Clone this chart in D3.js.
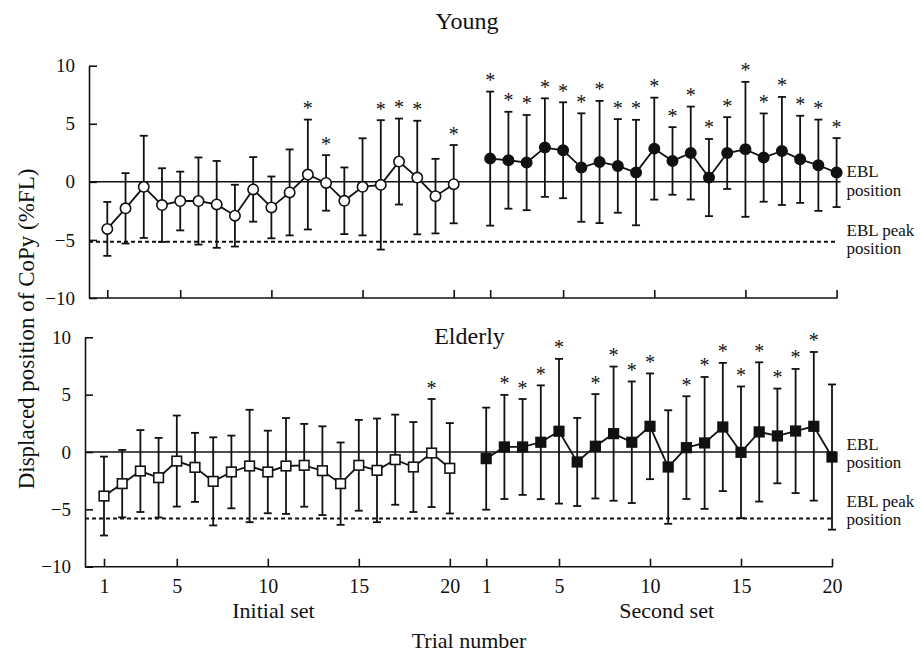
<!DOCTYPE html>
<html><head><meta charset="utf-8">
<script src="https://cdn.jsdelivr.net/npm/d3@7"></script>
<style>body{margin:0;background:#fff}svg{display:block}text{font-family:"Liberation Serif","Times New Roman",serif;fill:#111}</style>
</head><body><svg id="c" width="922" height="652"></svg>
<script>
// ---- data ----
const trials = [1,2,3,4,5,6,7,8,9,10,11,12,13,14,15,16,17,18,19,20];
const xTickLabels = [1,5,10,15,20];
const yTickValues = [-10,-5,0,5,10];

const youngInitialMean = [-4.05,-2.28,-0.43,-2.0,-1.65,-1.65,-1.94,-2.91,-0.65,-2.2,-0.91,0.63,-0.09,-1.63,-0.43,-0.26,1.75,0.37,-1.23,-0.2];
const youngInitialSD   = [2.32,3.03,4.4,3.17,2.53,3.75,3.74,2.66,2.78,2.66,3.7,4.73,2.39,2.87,4.18,5.57,3.7,4.89,3.21,3.37];
const youngInitialSig  = [0,0,0,0,0,0,0,0,0,0,0,1,1,0,0,1,1,1,0,1];
const youngSecondMean  = [2.0,1.86,1.66,2.95,2.72,1.23,1.71,1.37,0.8,2.86,1.8,2.48,0.37,2.48,2.8,2.09,2.66,1.94,1.43,0.8];
const youngSecondSD    = [5.77,4.17,4.1,4.24,4.13,4.67,5.26,4.03,4.54,4.39,2.91,4.0,3.32,3.09,5.81,3.8,4.65,3.75,3.93,2.97];
const youngSecondSig   = [1,1,1,1,1,1,1,1,1,1,1,1,1,1,1,1,1,1,1,1];
const youngPeak = -5.15;

const elderlyInitialMean = [-3.84,-2.76,-1.66,-2.24,-0.79,-1.34,-2.56,-1.74,-1.22,-1.74,-1.22,-1.16,-1.63,-2.76,-1.16,-1.6,-0.67,-1.31,-0.09,-1.42];
const elderlyInitialSD   = [3.44,2.94,3.57,3.47,3.97,3.01,3.84,3.17,4.9,3.6,4.18,3.61,3.87,3.59,3.96,4.52,3.93,3.92,4.71,3.94];
const elderlyInitialSig  = [0,0,0,0,0,0,0,0,0,0,0,0,0,0,0,0,0,0,1,0];
const elderlySecondMean  = [-0.58,0.44,0.44,0.85,1.81,-0.87,0.5,1.6,0.85,2.24,-1.31,0.38,0.79,2.18,-0.03,1.75,1.4,1.83,2.24,-0.44];
const elderlySecondSD    = [4.45,4.54,4.18,4.96,6.31,3.84,4.55,5.85,5.3,4.61,4.95,4.48,5.75,5.59,5.74,6.07,4.13,5.41,6.48,6.33];
const elderlySecondSig   = [0,1,1,1,1,0,1,1,1,1,0,1,1,1,1,1,1,1,1,0];
const elderlyPeak = -5.8;

// ---- drawing ----
const svg = d3.select("#c");
const ink = "#111";

function panel(cfg){
  const g = svg.append("g");
  const x = d3.scaleLinear().domain([0,40]).range(cfg.xr);
  const y = d3.scaleLinear().domain([-10,10]).range(cfg.yr);
  const pos = (set,t) => x(set===0 ? t-1 : t+20);
  const xEnd = x(40);

  // reference lines
  g.append("line").attr("x1",cfg.ax).attr("x2",xEnd+4).attr("y1",y(0)).attr("y2",y(0))
    .attr("stroke",ink).attr("stroke-width",1.5);
  g.append("line").attr("x1",cfg.ax).attr("x2",xEnd).attr("y1",y(cfg.peak)).attr("y2",y(cfg.peak))
    .attr("stroke",ink).attr("stroke-width",2).attr("stroke-dasharray","4,3");

  // y axis
  const ya = g.append("g").attr("transform",`translate(${cfg.ax},0)`)
    .call(d3.axisLeft(y).tickValues(yTickValues).tickSizeInner(-8).tickSizeOuter(0).tickPadding(14));
  ya.attr("font-family",null);
  ya.selectAll("path,line").attr("stroke",ink).attr("stroke-width",1.6);
  ya.selectAll("text").attr("font-size",19).attr("fill",ink);

  // x axis
  const tv = xTickLabels.map(d=>d-1).concat(xTickLabels.map(d=>d+20));
  const xa = g.append("g").attr("transform",`translate(0,${y(-10)})`)
    .call(d3.axisBottom(x).tickValues(tv).tickSizeInner(-8).tickSizeOuter(0).tickPadding(12)
      .tickFormat(cfg.labels ? (d => d<20 ? d+1 : d-20) : ""));
  xa.attr("font-family",null);
  xa.select(".domain").remove();
  xa.selectAll("line").attr("stroke",ink).attr("stroke-width",1.6);
  xa.selectAll("text").attr("font-size",20).attr("fill",ink);
  g.append("line").attr("x1",cfg.ax).attr("x2",xEnd+0.8).attr("y1",y(-10)).attr("y2",y(-10))
    .attr("stroke",ink).attr("stroke-width",1.6);

  cfg.sets.forEach((s,si)=>{
    const pts = trials.map((t,i)=>({t, m:s.mean[i], sd:s.sd[i], sig:s.sig[i]}));
    // error bars
    const eb = g.append("g").attr("stroke",ink).attr("stroke-width",1.8);
    pts.forEach(p=>{
      const cx = pos(si,p.t), y1 = y(p.m+p.sd), y2 = y(p.m-p.sd);
      eb.append("line").attr("x1",cx).attr("x2",cx).attr("y1",y1).attr("y2",y2);
      eb.append("line").attr("x1",cx-4).attr("x2",cx+4).attr("y1",y1).attr("y2",y1);
      eb.append("line").attr("x1",cx-4).attr("x2",cx+4).attr("y1",y2).attr("y2",y2);
      if(p.sig){
        g.append("text").attr("x",cx).attr("y",y1-4.5).attr("text-anchor","middle")
          .attr("font-size",20).text("*");
      }
    });
    // connecting line
    g.append("path").datum(pts)
      .attr("d",d3.line().x(p=>pos(si,p.t)).y(p=>y(p.m)))
      .attr("fill","none").attr("stroke",ink).attr("stroke-width",1.8);
    // markers
    const fill = si===0 ? "#fff" : ink;
    pts.forEach(p=>{
      const cx = pos(si,p.t), cy = y(p.m);
      if(cfg.shape==="circle"){
        g.append("circle").attr("cx",cx).attr("cy",cy).attr("r",5.2)
          .attr("fill",fill).attr("stroke",ink).attr("stroke-width",1.6);
      } else {
        g.append("rect").attr("x",cx-4.8).attr("y",cy-4.8).attr("width",9.6).attr("height",9.6)
          .attr("fill",fill).attr("stroke",ink).attr("stroke-width",1.6);
      }
    });
  });

  // title
  g.append("text").attr("x",cfg.titleX).attr("y",cfg.titleY).attr("text-anchor","middle")
    .attr("font-size",24).text(cfg.title);
  // EBL labels
  const lx = 846.5, fs = 17, lh = 18.5;
  g.append("text").attr("x",lx).attr("y",y(0)+cfg.e1).attr("font-size",fs).text("EBL");
  g.append("text").attr("x",lx).attr("y",y(0)+cfg.e1+lh).attr("font-size",fs).text("position");
  g.append("text").attr("x",lx).attr("y",y(cfg.peak)+cfg.e2).attr("font-size",fs).text("EBL peak");
  g.append("text").attr("x",lx).attr("y",y(cfg.peak)+cfg.e2+lh).attr("font-size",fs).text("position");
}

panel({xr:[107.3,836.6], yr:[298,65.7], ax:89, labels:false, shape:"circle",
  peak:youngPeak, title:"Young", titleX:467, titleY:29, e1:-4.5, e2:-6,
  sets:[{mean:youngInitialMean, sd:youngInitialSD, sig:youngInitialSig},
        {mean:youngSecondMean, sd:youngSecondSD, sig:youngSecondSig}]});

panel({xr:[104,832], yr:[566.7,337.3], ax:85, labels:true, shape:"square",
  peak:elderlyPeak, title:"Elderly", titleX:469.5, titleY:344, e1:-2.5, e2:-12,
  sets:[{mean:elderlyInitialMean, sd:elderlyInitialSD, sig:elderlyInitialSig},
        {mean:elderlySecondMean, sd:elderlySecondSD, sig:elderlySecondSig}]});

// axis titles
svg.append("text").attr("x",273.5).attr("y",618).attr("text-anchor","middle").attr("font-size",22).text("Initial set");
svg.append("text").attr("x",666.7).attr("y",618).attr("text-anchor","middle").attr("font-size",22).text("Second set");
svg.append("text").attr("x",469).attr("y",648).attr("text-anchor","middle").attr("font-size",22).text("Trial number");
svg.append("text").attr("transform","translate(34,329) rotate(-90)").attr("text-anchor","middle")
  .attr("font-size",23).text("Displaced position of CoPy (%FL)");
</script></body></html>
